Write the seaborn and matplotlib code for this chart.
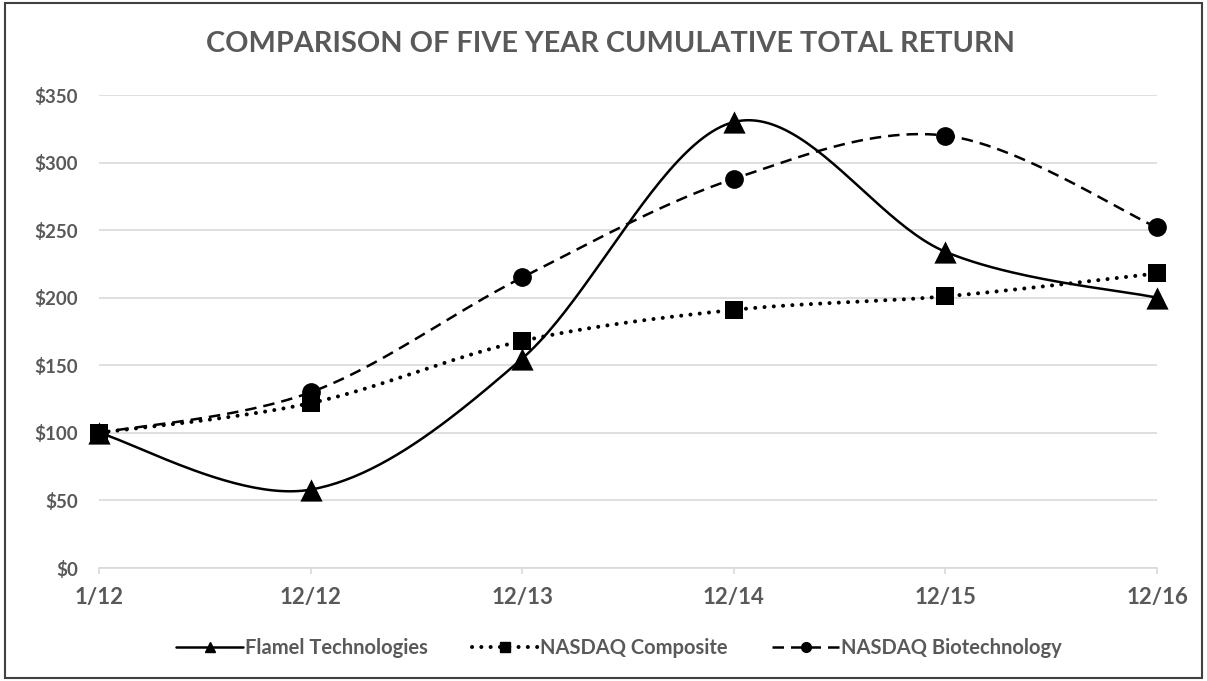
import numpy as np
import pandas as pd
import matplotlib
matplotlib.use("Agg")
import matplotlib.pyplot as plt
import seaborn as sns
from matplotlib.lines import Line2D
from matplotlib.patches import Rectangle

# ---------------- data ----------------
periods = ["1/12", "12/12", "12/13", "12/14", "12/15", "12/16"]
flamel = [100, 58, 155, 330, 234, 200]
nasdaq_composite = [100, 122, 168, 191, 201, 218]
nasdaq_biotech = [100, 130, 215, 288, 320, 252]
series_names = ["Flamel Technologies", "NASDAQ Composite", "NASDAQ Biotechnology"]
y_ticks = [0, 50, 100, 150, 200, 250, 300, 350]
y_tick_labels = ["$0", "$50", "$100", "$150", "$200", "$250", "$300", "$350"]
title = "COMPARISON OF FIVE YEAR CUMULATIVE TOTAL RETURN"

# ---------------- style ----------------
sns.set_theme(style="white")
plt.rcParams["font.family"] = ["Lato", "DejaVu Sans"]
GRAY = "#595959"
GRID = "#D9D9D9"


def smooth(xs, ys, n=50):
    """Excel-like smoothed line (Catmull-Rom Bezier segments)."""
    pts = np.column_stack([xs, ys]).astype(float)
    out = []
    for i in range(len(pts) - 1):
        p0 = pts[i - 1] if i > 0 else pts[i]
        p1, p2 = pts[i], pts[i + 1]
        p3 = pts[i + 2] if i + 2 < len(pts) else pts[i + 1]
        c1 = p1 + (p2 - p0) / 6.0
        c2 = p2 - (p3 - p1) / 6.0
        t = np.linspace(0, 1, n)[:, None]
        seg = (1 - t) ** 3 * p1 + 3 * (1 - t) ** 2 * t * c1 + 3 * (1 - t) * t ** 2 * c2 + t ** 3 * p2
        if i > 0:
            seg = seg[1:]
        out.append(seg)
    return np.vstack(out)


fig = plt.figure(figsize=(12.07, 6.81), dpi=100)
ax = fig.add_axes([99 / 1207, 1 - 568 / 681, (1157 - 99) / 1207, (568 - 95) / 681])

xs = np.arange(len(periods))
values = [flamel, nasdaq_composite, nasdaq_biotech]
markers = ["^", "s", "o"]
msizes = [16, 13.5, 13.5]
lws = [1.8, 2.9, 1.8]
dash_specs = [None, (0.01, 2.3), (4.6, 2.8)]

for vals, name, mk, ms, lw, dsh in zip(values, series_names, markers, msizes, lws, dash_specs):
    curve = smooth(xs, vals)
    df = pd.DataFrame({"x": curve[:, 0], "y": curve[:, 1]})
    sns.lineplot(data=df, x="x", y="y", ax=ax, color="black", linewidth=lw,
                 sort=False, estimator=None, zorder=3)
    line = ax.get_lines()[-1]
    line.set_clip_on(False)
    if dsh is not None:
        line.set_dashes(dsh)
        line.set_dash_capstyle("round" if dsh[0] < 0.1 else "butt")

for vals, mk, ms in zip(values, markers, msizes):
    pts = pd.DataFrame({"x": xs, "y": vals})
    sns.scatterplot(data=pts, x="x", y="y", ax=ax, marker=mk, s=ms ** 2,
                    color="black", edgecolor="black", linewidth=0, zorder=4,
                    clip_on=False)

ax.set_xlim(0, len(periods) - 1)
ax.set_ylim(0, 350)
ax.set_xticks(xs)
ax.set_xticklabels(periods)
ax.set_yticks(y_ticks)
ax.set_yticklabels(y_tick_labels)
ax.set_xlabel("")
ax.set_ylabel("")

ax.grid(axis="y", color=GRID, linewidth=1.2)
ax.grid(axis="x", visible=False)
ax.set_axisbelow(True)
for s in ["top", "right", "left"]:
    ax.spines[s].set_visible(False)
ax.spines["bottom"].set_color(GRID)
ax.spines["bottom"].set_linewidth(1.2)

ax.tick_params(axis="y", length=0, pad=15, labelsize=13.5, labelcolor=GRAY)
ax.tick_params(axis="x", length=4, width=1.2, color=GRID, direction="out",
               pad=10, labelsize=16, labelcolor=GRAY, bottom=True)
for lab in ax.get_xticklabels() + ax.get_yticklabels():
    lab.set_fontweight("bold")

fig.text(611 / 1207, 1 - 44 / 681, title, ha="center", va="center",
         fontsize=20.8, fontweight="bold", color=GRAY)

handles = [
    Line2D([], [], color="black", lw=1.8, marker="^", markersize=7),
    Line2D([], [], color="black", lw=2.9, marker="s", markersize=7,
           dashes=(0.01, 2.3), dash_capstyle="round"),
    Line2D([], [], color="black", lw=1.8, marker="o", markersize=7,
           dashes=(4.6, 2.8)),
]
leg = fig.legend(handles, series_names, loc="center", bbox_to_anchor=(619 / 1207, 1 - 648 / 681),
                 ncol=3, frameon=False, handlelength=3.3, handletextpad=0.1,
                 columnspacing=2.2, prop={"weight": "bold", "size": 14.5})
for t in leg.get_texts():
    t.set_color(GRAY)

fig.patches.append(Rectangle((5 / 1207, 3 / 681), 1197 / 1207, 675 / 681,
                             transform=fig.transFigure, fill=False,
                             edgecolor="#404040", linewidth=1.5))

fig.savefig("out.png", dpi=100)
